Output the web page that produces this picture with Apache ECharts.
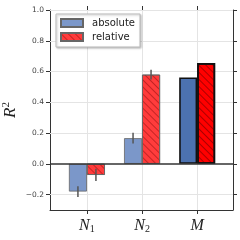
<!DOCTYPE html>
<html><head><meta charset="utf-8">
<script src="https://cdn.jsdelivr.net/npm/echarts@6/dist/echarts.min.js"></script>
<style>html,body{margin:0;padding:0;background:#fff}#c{width:240px;height:240px}</style>
</head><body><div id="c"></div>
<script>
const categories = ['N1', 'N2', 'M'];
const catPos = [0, 1, 2];
const absoluteVals = [-0.18, 0.167, 0.562];
const relativeVals = [-0.072, 0.58, 0.655];
const absoluteErr = [0.035, 0.035, 0];
const relativeErr = [0.04, 0.032, 0];
const yTicks = [-0.2, 0.0, 0.2, 0.4, 0.6, 0.8, 1.0];

const lightBlue = '#7b97c9', darkBlue = '#4c72b0';
const lightRed = '#ff3c3c', darkRed = '#ff0000';
const hatch = {symbol: 'rect', symbolSize: 1, color: 'rgba(110,0,0,0.4)', dashArrayX: [[1, 0]], dashArrayY: [1, 4], rotation: Math.PI / 4};

const chart = echarts.init(document.getElementById('c'), null, {renderer: 'canvas'});
const catLabelRich = {
  a: {fontFamily: 'Liberation Serif', fontStyle: 'italic', fontSize: 16, color: '#222'},
  s: {fontFamily: 'Liberation Serif', fontSize: 10, color: '#222', verticalAlign: 'bottom', padding: [6, 0, 0, 0]}
};
function catLabel(v) {
  const i = catPos.indexOf(Math.round(v));
  const c = categories[i] || '';
  if (c.length > 1) return '{a|' + c[0] + '}{s|' + c.slice(1) + '}';
  return '{a|' + c + '}';
}
function errSeries(vals, errs, dir) {
  return {
    type: 'custom', xAxisIndex: 0, yAxisIndex: 0, z: 5,
    data: catPos.map((x, i) => [x, vals[i], errs[i]]),
    renderItem: function (params, api) {
      const x = api.value(0), v = api.value(1), e = api.value(2);
      if (!e) return null;
      const p1 = api.coord([x, v - e]), p2 = api.coord([x, v + e]);
      const off = dir * 9;
      return {type: 'line', shape: {x1: p1[0] + off, y1: p1[1], x2: p2[0] + off, y2: p2[1]},
        style: {stroke: '#555', lineWidth: 1.5}};
    }
  };
}
const gridLineData = catPos.map(x => ({xAxis: x})).concat(yTicks.filter(v => v !== 0).map(v => ({yAxis: v})));
const option = {
  animation: false,
  grid: {left: 50, right: 7, top: 10, bottom: 30, containLabel: false, outerBoundsMode: 'none'},
  legend: {
    orient: 'vertical', left: 56, top: 14, itemWidth: 22, itemHeight: 8, itemGap: 4, icon: 'rect',
    padding: [4, 5, 5, 4], backgroundColor: '#fff', borderColor: '#bbb', borderWidth: 1,
    shadowColor: 'rgba(0,0,0,0.25)', shadowBlur: 2, shadowOffsetX: 1, shadowOffsetY: 1,
    textStyle: {fontFamily: 'DejaVu Sans', fontSize: 10, color: '#222', padding: [0, 0, 0, 4]},
    data: ['absolute', 'relative']
  },
  xAxis: [{
    type: 'value', min: -0.67, max: 2.65, position: 'bottom',
    axisLine: {show: true, onZero: false, lineStyle: {color: '#333', width: 1}},
    axisTick: {show: true, customValues: catPos, length: 4, lineStyle: {color: '#333'}},
    axisLabel: {customValues: catPos, formatter: catLabel, rich: catLabelRich, margin: 8},
    splitLine: {show: false}
  }, {
    type: 'value', min: -0.67, max: 2.65, position: 'top',
    axisLine: {show: true, onZero: false, lineStyle: {color: '#333', width: 1}},
    axisTick: {show: true, customValues: catPos, length: 4, lineStyle: {color: '#333'}},
    axisLabel: {show: false}, splitLine: {show: false}
  }],
  yAxis: [{
    type: 'value', min: -0.3, max: 1.0, position: 'left',
    name: '{r|R}{s|2}', nameLocation: 'middle', nameGap: 30, nameRotate: 90, nameMoveOverlap: false,
    nameTextStyle: {rich: {
      r: {fontFamily: 'Liberation Serif', fontStyle: 'italic', fontSize: 17, color: '#222'},
      s: {fontFamily: 'Liberation Serif', fontSize: 11, color: '#222', verticalAlign: 'top', padding: [0, 0, 8, 0]}
    }},
    axisLine: {show: true, onZero: false, lineStyle: {color: '#333', width: 1}},
    axisTick: {show: true, customValues: yTicks, length: 4, lineStyle: {color: '#333'}},
    axisLabel: {customValues: yTicks, formatter: v => (v < 0 ? '\u22120.' : '') + (v < 0 ? String(Math.round(-v * 10)) : v.toFixed(1)), fontFamily: 'DejaVu Sans', fontSize: 7.5, color: '#444', margin: 6},
    splitLine: {show: false}
  }, {
    type: 'value', min: -0.3, max: 1.0, position: 'right',
    axisLine: {show: true, onZero: false, lineStyle: {color: '#333', width: 1}},
    axisTick: {show: true, customValues: yTicks, length: 4, lineStyle: {color: '#333'}},
    axisLabel: {show: false}, splitLine: {show: false}
  }],
  series: [{
    name: 'grid', type: 'line', data: [], silent: true, z: 1,
    markLine: {silent: true, symbol: 'none', label: {show: false}, lineStyle: {color: '#e4e4e4', width: 1, type: 'solid'}, data: gridLineData, z: 1}
  }, {
    name: 'absolute', type: 'bar', barWidth: 18, barGap: '0%', z: 3,
    itemStyle: {color: lightBlue, borderColor: '#666', borderWidth: 0.8},
    data: catPos.map((x, i) => {
      const d = {value: [x, absoluteVals[i]]};
      if (categories[i] === 'M') d.itemStyle = {color: darkBlue, borderColor: '#111', borderWidth: 1.6};
      return d;
    }),
    markLine: {silent: true, symbol: 'none', label: {show: false}, lineStyle: {color: '#333', width: 1.5, type: 'solid'}, data: [{yAxis: 0}], z: 4}
  }, {
    name: 'relative', type: 'bar', barWidth: 18, barGap: '0%', z: 3,
    itemStyle: {color: lightRed, borderColor: '#666', borderWidth: 0.8, decal: hatch},
    data: catPos.map((x, i) => {
      const d = {value: [x, relativeVals[i]]};
      if (categories[i] === 'M') d.itemStyle = {color: darkRed, borderColor: '#111', borderWidth: 1.6, decal: Object.assign({}, hatch, {color: 'rgba(90,0,0,0.5)'})};
      return d;
    })
  }, errSeries(absoluteVals, absoluteErr, -1), errSeries(relativeVals, relativeErr, 1)]
};
chart.setOption(option);
</script></body></html>
